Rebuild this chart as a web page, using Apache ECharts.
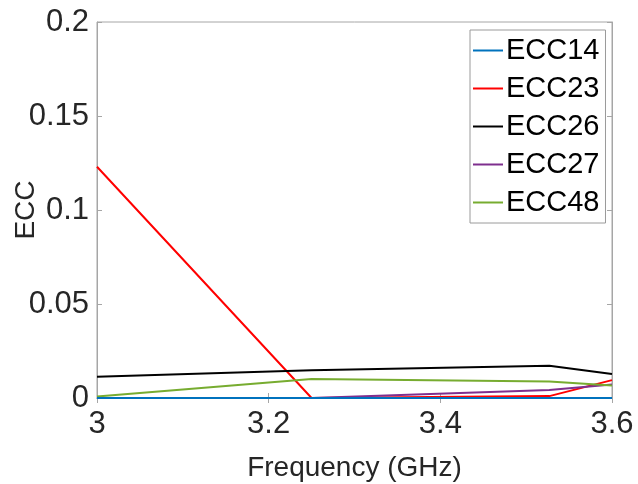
<!DOCTYPE html>
<html><head><meta charset="utf-8">
<script src="https://cdn.jsdelivr.net/npm/echarts@6/dist/echarts.min.js"></script>
<style>html,body{margin:0;padding:0;background:#fff;}#c{width:638px;height:484px;}</style>
</head><body><div id="c"></div>
<script>
const freq = [3.0, 3.25, 3.527, 3.6];
const ecc14 = [0.0, 0.0, 0.0, 0.0];
const ecc23 = [0.123, 0.0, 0.001, 0.0095];
const ecc26 = [0.0113, 0.0148, 0.0172, 0.0128];
const ecc27 = [0.0, 0.0, 0.0042, 0.0072];
const ecc48 = [0.0008, 0.0101, 0.0088, 0.0066];
const names = ['ECC14','ECC23','ECC26','ECC27','ECC48'];
const colors = ['#0072BD','#FF0000','#000000','#7E2F8E','#77AC30'];
const values = [ecc14, ecc23, ecc26, ecc27, ecc48];
const xTicks = [3, 3.2, 3.4, 3.6];
const yTicks = [0, 0.05, 0.1, 0.15, 0.2];

const font = 'Liberation Sans, Arial, Helvetica, sans-serif';
const axisGray = '#a6a6a6';
const chart = echarts.init(document.getElementById('c'));
const series = names.map((n,i)=>({
  name:n, type:'line', showSymbol:false, symbol:'none',
  data: freq.map((f,j)=>[f, values[i][j]]),
  lineStyle:{color:colors[i], width:2}, itemStyle:{color:colors[i]},
  animation:false
}));
series.push(series.shift());
chart.setOption({
  animation:false,
  grid:{left:97, right:26, top:22, bottom:86, show:true, borderColor:axisGray, borderWidth:1,
        containLabel:false, outerBoundsMode:'none'},
  legend:{
    data:names, orient:'vertical', left:470, top:30,
    padding:[6,6,6,3], itemGap:9, itemWidth:30, itemHeight:2, icon:'rect',
    borderColor:'#9a9a9a', borderWidth:1, backgroundColor:'#fff',
    textStyle:{fontFamily:font, fontSize:29, color:'#000', padding:[0,0,0,-2]}
  },
  xAxis:[{
    type:'value', min:3, max:3.6, interval:0.2,
    name:'Frequency (GHz)', nameLocation:'middle', nameGap:56, nameMoveOverlap:false,
    nameTextStyle:{fontFamily:font, fontSize:28, color:'#262626'},
    axisLine:{show:true, lineStyle:{color:axisGray}},
    axisTick:{show:true, inside:true, length:5, lineStyle:{color:axisGray}},
    axisLabel:{fontFamily:font, fontSize:31, color:'#262626', margin:11,
      formatter:v=>String(Math.round(v*10)/10)},
    splitLine:{show:false}
  },{
    type:'value', position:'top', min:3, max:3.6, interval:0.2,
    axisLine:{show:true, lineStyle:{color:axisGray}},
    axisTick:{show:true, inside:true, length:5, lineStyle:{color:axisGray}},
    axisLabel:{show:false}, splitLine:{show:false}
  }],
  yAxis:[{
    type:'value', min:0, max:0.2, interval:0.05,
    name:'ECC', nameLocation:'middle', nameGap:57, nameRotate:90, nameMoveOverlap:false,
    nameTextStyle:{fontFamily:font, fontSize:28, color:'#262626'},
    axisLine:{show:true, lineStyle:{color:axisGray}},
    axisTick:{show:true, inside:true, length:5, lineStyle:{color:axisGray}},
    axisLabel:{fontFamily:font, fontSize:31, color:'#262626', margin:8,
      formatter:v=>String(Math.round(v*100)/100)},
    splitLine:{show:false}
  },{
    type:'value', position:'right', min:0, max:0.2, interval:0.05,
    axisLine:{show:true, lineStyle:{color:axisGray}},
    axisTick:{show:true, inside:true, length:5, lineStyle:{color:axisGray}},
    axisLabel:{show:false}, splitLine:{show:false}
  }],
  series: series
});
</script></body></html>
